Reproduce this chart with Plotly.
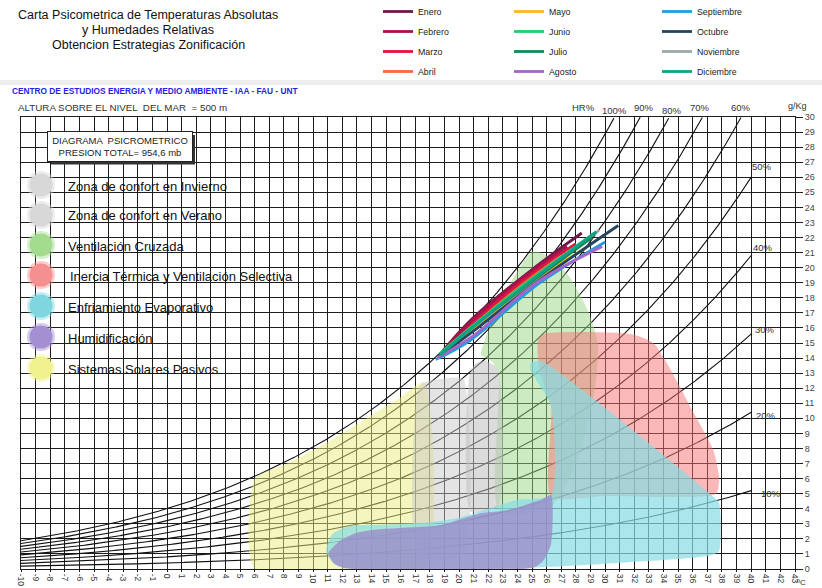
import numpy as np
import plotly.graph_objects as go

# ---------------- chart constants ----------------
P_TOTAL = 954.6          # mb, total pressure at 500 m
RH_LEVELS = [10, 20, 30, 40, 50, 60, 70, 80, 90, 100]
T_MIN, T_MAX = -10, 43
W_MIN, W_MAX = 0, 30
x_tick_vals = list(range(-10, 44))
x_tick_text = [str(v) for v in x_tick_vals]

# ---------------- monthly climate lines (T degC, W g/kg) ----------------
months = ["Enero", "Febrero", "Marzo", "Abril", "Mayo", "Junio", "Julio",
          "Agosto", "Septiembre", "Octubre", "Noviembre", "Diciembre"]
month_colors = ["#6b1a47", "#a8124a", "#e5123f", "#f76a3c", "#f7be16", "#22cc6e",
                "#138a5c", "#a566c9", "#1e9fe0", "#26445c", "#9ea8a8", "#10a287"]
month_T = {
    "Enero":      [19.0, 21.0, 25.3, 28.4],
    "Febrero":    [18.9, 21.0, 25.0, 27.4],
    "Marzo":      [18.9, 21.0, 25.0, 28.0],
    "Abril":      [18.8, 21.0, 25.0, 28.1],
    "Mayo":       [18.7, 21.0, 25.2, 28.7],
    "Junio":      [18.7, 21.0, 25.3, 29.3],
    "Julio":      [18.7, 21.0, 25.3, 29.1],
    "Agosto":     [18.5, 21.0, 25.3, 29.8],
    "Septiembre": [18.4, 20.8, 25.4, 30.0],
    "Octubre":    [18.6, 21.0, 25.4, 30.9],
    "Noviembre":  [18.6, 21.0, 25.3, 29.6],
    "Diciembre":  [18.7, 21.0, 25.3, 29.4],
}
month_W = {
    "Enero":      [14.6, 16.7, 20.1, 22.3],
    "Febrero":    [14.5, 16.6, 19.8, 21.4],
    "Marzo":      [14.4, 16.4, 19.6, 21.6],
    "Abril":      [14.4, 16.3, 19.4, 21.4],
    "Mayo":       [14.2, 16.0, 19.2, 21.3],
    "Junio":      [14.3, 16.2, 19.5, 22.3],
    "Julio":      [14.2, 16.1, 19.3, 22.0],
    "Agosto":     [14.0, 15.5, 19.0, 21.4],
    "Septiembre": [13.9, 15.2, 18.9, 21.7],
    "Octubre":    [14.1, 15.8, 19.1, 22.8],
    "Noviembre":  [14.1, 15.9, 19.2, 22.5],
    "Diciembre":  [14.2, 16.1, 19.4, 22.4],
}
# drawing order (last on top)
draw_order = ["Noviembre", "Mayo", "Abril", "Marzo", "Enero", "Febrero", "Octubre",
              "Septiembre", "Agosto", "Junio", "Julio", "Diciembre"]

# ---------------- bioclimatic zones (T degC, W g/kg vertices) ----------------
zone_yellow_T = [6.0, 6.0, 8.0, 10.0, 12.0, 14.0, 16.0, 17.6, 17.6]
zone_yellow_W = [0.0, 6.0, 6.9, 7.9, 9.0, 10.2, 11.4, 12.4, 0.0]

zone_green_T = [22.7, 22.7, 22.2, 21.5, 21.8, 23.3, 24.9, 25.6, 27.4, 28.8, 29.5, 29.3, 28.0, 26.5, 25.5]
zone_green_W = [3.9, 13.0, 13.8, 14.2, 15.3, 18.6, 21.0, 21.0, 19.6, 17.2, 15.0, 12.0, 7.0, 4.3, 3.8]

zone_red_T = [25.5, 25.4, 25.8, 31.7, 33.3, 36.1, 37.4, 37.8, 37.6, 30.0, 26.3, 26.3]
zone_red_W = [13.2, 15.2, 15.6, 15.6, 15.0, 10.3, 7.9, 6.1, 5.0, 4.85, 4.8, 10.8]

zone_cyan_T = [26.3, 24.0, 22.0, 20.0, 18.0, 15.0, 12.5, 11.3, 10.9, 11.5, 12.5, 25.0, 30.0,
               37.2, 37.8, 37.8, 37.4, 25.6, 24.9, 24.9, 26.3]
zone_cyan_W = [4.9, 4.6, 4.0, 3.4, 3.1, 2.95, 2.85, 2.3, 1.2, 0.3, 0.05, 0.1, 0.35,
               0.9, 1.2, 4.4, 4.8, 13.8, 13.65, 13.2, 10.8]

zone_purple_T = [11.05, 11.9, 13.0, 14.2, 16.5, 18.7, 21.5, 23.3, 25.6, 26.3, 26.3, 25.8, 25.1, 12.2, 11.4]
zone_purple_W = [1.05, 1.9, 2.4, 2.6, 2.75, 2.9, 3.7, 3.9, 4.6, 4.9, 1.7, 0.6, 0.1, 0.05, 0.4]

zone_winter_T = [17.2, 17.2, 17.6, 19.5, 20.3, 20.3]
zone_winter_W = [0.8, 12.0, 12.4, 12.7, 12.6, 1.0]

zone_summer_T = [20.8, 20.7, 21.1, 21.8, 22.6, 22.7]
zone_summer_W = [3.8, 12.8, 13.6, 13.8, 13.3, 4.2]

zone_labels = ["Zona de confort en Invierno", "Zona de confort en Verano", "Ventilación Cruzada",
               "Inercia Térmica y Ventilación Selectiva", "Enfriamiento Evaporativo",
               "Humidificación", "Sistemas Solares Pasivos"]
zone_legend_colors = ["#d8d8d8", "#d8d8d8", "#a3dc8e", "#f59090", "#80d6df", "#a38fd2", "#eff28e"]

# ---------------- figure geometry ----------------
FIG_W, FIG_H = 822, 588
ML, MR, MT, MB = 21, 27, 117, 19
PW, PH = FIG_W - ML - MR, FIG_H - MT - MB
FONT = "Liberation Sans, Arial, sans-serif"


def pxx(px):
    return (px - ML) / PW


def pxy(py):
    return (FIG_H - MB - py) / PH


def sat_ratio(t):
    """Saturation humidity ratio in g/kg at total pressure P_TOTAL."""
    pws = 6.112 * np.exp(17.62 * t / (243.12 + t))
    return 622.0 * pws / (P_TOTAL - pws)


fig = go.Figure()

# relative humidity curves
t_axis = np.arange(-10.0, 40.0001, 0.05)
for rh in RH_LEVELS:
    w = rh / 100.0 * sat_ratio(t_axis)
    keep = w <= W_MAX
    fig.add_trace(go.Scatter(x=t_axis[keep], y=w[keep], mode="lines",
                             line=dict(color="#111", width=1.1),
                             hoverinfo="skip", showlegend=False))


# zones (drawn over the grid and curves, semi-transparent)
def add_zone(tx, wy, rgba):
    fig.add_trace(go.Scatter(x=tx + tx[:1], y=wy + wy[:1], mode="lines", fill="toself",
                             fillcolor=rgba, line=dict(width=0, shape="spline", smoothing=0.6),
                             hoverinfo="skip", showlegend=False))


add_zone(zone_yellow_T, zone_yellow_W, "rgba(235,237,125,0.50)")
add_zone(zone_green_T, zone_green_W, "rgba(155,215,135,0.50)")
add_zone(zone_winter_T, zone_winter_W, "rgba(198,198,198,0.48)")
add_zone(zone_summer_T, zone_summer_W, "rgba(192,192,192,0.55)")
add_zone(zone_red_T, zone_red_W, "rgba(245,115,115,0.50)")
add_zone(zone_cyan_T, zone_cyan_W, "rgba(135,220,227,0.71)")
add_zone(zone_purple_T, zone_purple_W, "rgba(155,135,202,0.75)")

# monthly lines, each month in its own legend group so spacing can be set
for name in draw_order:
    i = months.index(name)
    leg = "legend" if i < 4 else ("legend2" if i < 8 else "legend3")
    fig.add_trace(go.Scatter(x=month_T[name], y=month_W[name], mode="lines", name=name,
                             line=dict(color=month_colors[i], width=2.8, shape="spline"),
                             legend=leg, legendrank=i, legendgroup=name, hoverinfo="skip"))

legend_common = dict(font=dict(family=FONT, size=8.8, color="#222"), bgcolor="rgba(0,0,0,0)",
                     traceorder="grouped", tracegroupgap=1, itemwidth=30, itemclick=False,
                     xanchor="left", yanchor="top")

annotations = []


def text(px, py, s, size=9, color="#333", xanchor="left", yanchor="middle", **kw):
    annotations.append(dict(x=pxx(px), y=pxy(py), xref="paper", yref="paper", text=s,
                            showarrow=False, xanchor=xanchor, yanchor=yanchor,
                            font=dict(family=FONT, size=size, color=color), **kw))


# header
text(148, 15, "Carta Psicometrica de Temperaturas Absolutas", 12.5, "#111", "center")
text(148, 30, "y Humedades Relativas", 12.5, "#111", "center")
text(148, 45, "Obtencion Estrategias Zonificación", 12.5, "#111", "center")
text(10, 91, "<b>CENTRO DE ESTUDIOS ENERGIA Y MEDIO AMBIENTE - IAA - FAU - UNT</b>", 8.3, "#1f22e6")
text(16, 108, "ALTURA SOBRE EL NIVEL  DEL MAR  = 500 m", 9.8, "#333")

# RH labels
for lbl, px, py in [("HR%", 583, 107), ("100%", 614, 110), ("90%", 644, 108), ("80%", 672, 110),
                    ("70%", 700, 108), ("60%", 741, 108)]:
    text(px, py, lbl, 9.5, "#333", "center")
for lbl, px, py in [("50%", 762, 166), ("40%", 763, 247), ("30%", 765, 329), ("20%", 766, 415),
                    ("10%", 771, 493)]:
    text(px, py, lbl, 9.5, "#333", "center")
text(797, 106, "g/Kg", 9, "#333", "center")
text(801, 582, "ºC", 8, "#333", "center")

# pressure box
annotations.append(dict(x=pxx(119.5), y=pxy(146), xref="paper", yref="paper",
                        text="DIAGRAMA  PSICROMETRICO<br>PRESION TOTAL= 954,6 mb", showarrow=False,
                        xanchor="center", yanchor="middle", align="center", bgcolor="white",
                        bordercolor="#222", borderwidth=1, borderpad=1, width=142, height=27,
                        font=dict(family=FONT, size=9.5, color="#222")))

shapes = [
    dict(type="rect", xref="paper", yref="paper", x0=0 - ML / PW, x1=1 + MR / PW,
         y0=pxy(85), y1=pxy(80), fillcolor="#eeeeee", line=dict(width=0), layer="below"),
    dict(type="rect", xref="paper", yref="paper", x0=pxx(51), x1=pxx(195), y0=pxy(164.5), y1=pxy(135),
         fillcolor="#333", line=dict(width=0), layer="above"),
]
# zone legend circles and labels
zone_legend_py = [185, 215, 245, 275, 306, 337, 368]
for lbl, col, py in zip(zone_labels, zone_legend_colors, zone_legend_py):
    for r, op in [(14, 0.45), (11.5, 1.0)]:
        shapes.append(dict(type="circle", xref="paper", yref="paper", xsizemode="pixel",
                           ysizemode="pixel", xanchor=pxx(41), yanchor=pxy(py), x0=-r, x1=r,
                           y0=-r, y1=r, fillcolor=col, opacity=op, line=dict(width=0),
                           layer="above"))
    text(66 if "Inercia" not in lbl else 68, py + 1, lbl, 13, "#111")

axis_common = dict(showgrid=True, gridcolor="#1c1c1c", gridwidth=1, zeroline=False,
                   showline=True, linecolor="#1c1c1c", linewidth=1, mirror=True,
                   ticks="outside", tickcolor="#1c1c1c", fixedrange=True)

fig.update_layout(
    width=FIG_W, height=FIG_H,
    margin=dict(l=ML, r=MR, t=MT, b=MB, autoexpand=False),
    paper_bgcolor="white", plot_bgcolor="white",
    font=dict(family=FONT),
    xaxis=dict(range=[T_MIN, T_MAX], tickmode="array", tickvals=x_tick_vals, ticktext=x_tick_text,
               tickangle=90, ticklen=2,
               tickfont=dict(family=FONT, size=8.5, color="#333"), **axis_common),
    yaxis=dict(range=[W_MIN, W_MAX], tick0=0, dtick=1, side="right", ticklen=7,
               tickfont=dict(family=FONT, size=9, color="#444"), **axis_common),
    legend=dict(x=pxx(378), y=pxy(-3), **legend_common),
    legend2=dict(x=pxx(509), y=pxy(-3), **legend_common),
    legend3=dict(x=pxx(657), y=pxy(-3), **legend_common),
    annotations=annotations,
    shapes=shapes,
)

fig.write_html("out.html")
